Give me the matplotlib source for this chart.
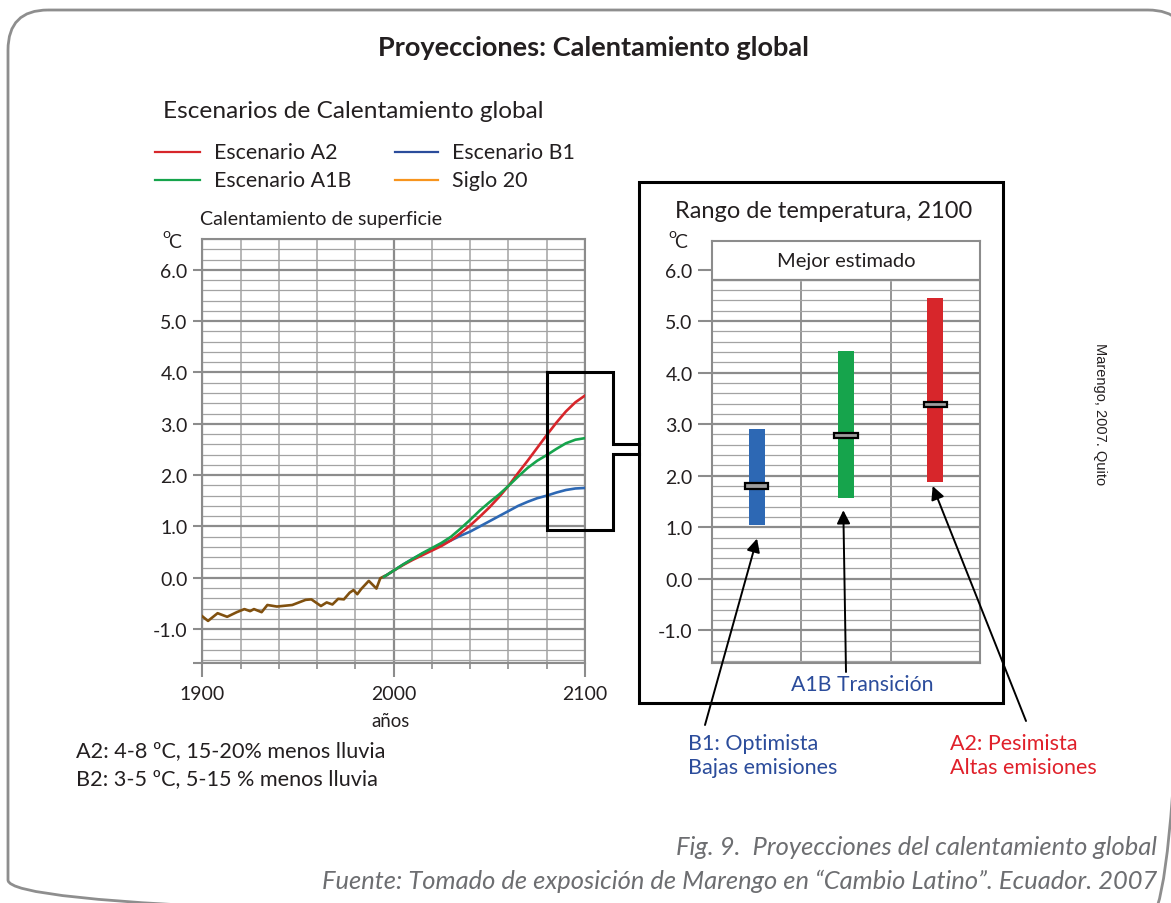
import numpy as np
import matplotlib
matplotlib.use("Agg")
import matplotlib.pyplot as plt
from matplotlib.patches import FancyBboxPatch, Rectangle
from matplotlib.lines import Line2D

plt.rcParams['font.family'] = ['Lato', 'DejaVu Sans']

# ---- data -------------------------------------------------------------
hist_years = [1900, 1903, 1908, 1913, 1918, 1922, 1925, 1927, 1931, 1934, 1939,
              1947, 1954, 1957, 1962, 1965, 1968, 1971, 1974, 1977, 1979, 1981,
              1983, 1987, 1991, 1993, 1995]
hist_temp = [-0.75, -0.84, -0.69, -0.76, -0.67, -0.61, -0.65, -0.61, -0.67, -0.53,
             -0.56, -0.53, -0.43, -0.42, -0.55, -0.48, -0.52, -0.41, -0.42, -0.29,
             -0.24, -0.32, -0.22, -0.06, -0.21, -0.01, 0.03]

scen_years = [1995, 2000, 2005, 2010, 2015, 2020, 2025, 2030, 2035, 2040, 2045,
              2050, 2055, 2060, 2065, 2070, 2075, 2080, 2085, 2090, 2095, 2100]
a2_temp = [0.02, 0.14, 0.25, 0.35, 0.44, 0.53, 0.62, 0.73, 0.87, 1.02, 1.19,
           1.37, 1.57, 1.79, 2.04, 2.28, 2.53, 2.78, 3.02, 3.24, 3.42, 3.55]
a1b_temp = [0.02, 0.14, 0.26, 0.37, 0.48, 0.58, 0.68, 0.80, 0.96, 1.13, 1.31,
            1.47, 1.62, 1.79, 1.97, 2.14, 2.28, 2.39, 2.51, 2.62, 2.69, 2.72]
b1_temp = [0.02, 0.14, 0.26, 0.37, 0.47, 0.56, 0.65, 0.73, 0.82, 0.90, 1.00,
           1.10, 1.20, 1.30, 1.40, 1.48, 1.55, 1.60, 1.66, 1.71, 1.74, 1.75]

range_labels = ['B1', 'A1B', 'A2']
range_low = [1.05, 1.57, 1.88]
range_high = [2.90, 4.42, 5.45]
range_best = [1.80, 2.78, 3.38]

y_tick_values = [-1, 0, 1, 2, 3, 4, 5, 6]
x_tick_years = [1900, 2000, 2100]

# ---- styling ------------------------------------------------------------
C_RED = '#d7262b'
C_GREEN = '#16a44c'
C_BLUE = '#2d68b4'
C_BROWN = '#80500f'
C_ORANGE = '#f7941d'
C_NAVY = '#2b4c9b'
C_GRID = '#a3a3a3'
C_GRID_MAJ = '#8c8c8c'
C_TEXT = '#231f20'
TICK_FS = 14

W, H = 1171, 904
fig = plt.figure(figsize=(W / 100, H / 100), dpi=100)
fig.patch.set_facecolor('white')


def px_axes(x0, y0, x1, y1, **kw):
    """Axes placed by pixel box (top-left origin)."""
    return fig.add_axes([x0 / W, 1 - y1 / H, (x1 - x0) / W, (y1 - y0) / H], **kw)


# ---- left chart: warming time series ------------------------------------
ax = px_axes(202.3, 240, 585, 664)
ax.set_xlim(1900, 2100)
ax.set_ylim(-1.66, 6.6)
ax.set_axisbelow(True)

ax.plot(hist_years, hist_temp, color=C_BROWN, lw=1.9, zorder=3)
ax.plot(scen_years, b1_temp, color=C_BLUE, lw=1.9, zorder=3)
ax.plot(scen_years, a2_temp, color=C_RED, lw=1.9, zorder=3)
ax.plot(scen_years, a1b_temp, color=C_GREEN, lw=1.9, zorder=4)

ax.set_yticks(y_tick_values + [-1.66])
ax.set_yticklabels([f'{v:.1f}' for v in y_tick_values] + [''])
ax.set_yticks(np.arange(-1.6, 6.61, 0.2), minor=True)
ax.set_xticks(x_tick_years)
ax.set_xticklabels([str(y) for y in x_tick_years])
ax.set_xticks(np.arange(1920, 2100, 20), minor=True)
ax.tick_params(axis='y', which='major', length=6.5, width=1.5, color=C_GRID_MAJ,
               labelsize=TICK_FS, labelcolor=C_TEXT, pad=4)
ax.tick_params(axis='y', which='minor', length=0)
ax.tick_params(axis='x', which='major', length=10, width=1.5, color=C_GRID_MAJ,
               labelsize=TICK_FS, labelcolor=C_TEXT, pad=6)
ax.tick_params(axis='x', which='minor', length=4.5, width=1.2, color=C_GRID_MAJ)
ax.grid(axis='y', which='minor', color=C_GRID, lw=0.9)
ax.grid(axis='y', which='major', color=C_GRID_MAJ, lw=1.6)
ax.grid(axis='x', which='minor', color=C_GRID, lw=1.1)
ax.grid(axis='x', which='major', color=C_GRID_MAJ, lw=1.6)
for s in ax.spines.values():
    s.set_color(C_GRID_MAJ)
    s.set_linewidth(1.5)

# ---- right chart: range of temperature in 2100 ---------------------------
bx = px_axes(712, 241.7, 980, 664.3)
bx.set_xlim(0, 3)
bx.set_ylim(-1.64, 6.56)
bx.set_axisbelow(True)
bx.set_xticks([1, 2])
bx.set_xticklabels([])
bx.tick_params(axis='x', length=0)
bx.set_yticks(y_tick_values)
bx.set_yticklabels([f'{v:.1f}' for v in y_tick_values])
bx.set_yticks(np.arange(-1.6, 6.5, 0.2), minor=True)
bx.tick_params(axis='y', which='major', length=10, width=1.5, color=C_GRID_MAJ,
               labelsize=TICK_FS, labelcolor=C_TEXT, pad=4)
bx.tick_params(axis='y', which='minor', length=0)
bx.grid(axis='y', which='minor', color=C_GRID, lw=0.9)
bx.grid(axis='y', which='major', color=C_GRID_MAJ, lw=1.6)
bx.grid(axis='x', which='major', color=C_GRID_MAJ, lw=1.3)
for s in bx.spines.values():
    s.set_color(C_GRID_MAJ)
    s.set_linewidth(1.5)
# header band for the best-estimate caption
bx.axhspan(5.8, 6.56, color='white', zorder=1)
bx.axhline(5.8, color=C_GRID_MAJ, lw=1.6, zorder=1.5)
bx.text(1.5, 6.18, 'Mejor estimado', ha='center', va='center', fontsize=14.5,
        color=C_TEXT, zorder=2)

xpos = np.arange(len(range_labels)) + 0.5
bx.bar(xpos, np.array(range_high) - np.array(range_low), bottom=range_low,
       width=0.18, color=[C_BLUE, C_GREEN, C_RED], zorder=3)
bx.bar(xpos, 0.1, bottom=np.array(range_best) - 0.05, width=0.26,
       color='#9d9d9d', edgecolor='black', linewidth=1.6, zorder=4)

# arrows from scenario captions to each range
arrow_tip_gap = [0.27, 0.24, 0.08]
arrow_tip_dx = [0.004, -0.03, -0.03]
arrow_tails = [(705, 726), (846, 673), (1026, 722)]
for i in range(len(range_labels)):
    tx, ty = arrow_tails[i]
    bx.annotate('', xy=(xpos[i] + arrow_tip_dx[i], range_low[i] - arrow_tip_gap[i]),
                xytext=(tx, H - ty), textcoords='figure pixels',
                arrowprops=dict(arrowstyle='-|>', color='black', lw=1.4,
                                mutation_scale=20, shrinkA=0, shrinkB=0),
                annotation_clip=False, zorder=6)

# ---- overlay for frames, bracket and free text ---------------------------
deco = fig.add_axes([0, 0, 1, 1], zorder=10)
deco.set_xlim(0, W)
deco.set_ylim(H, 0)
deco.axis('off')
deco.patch.set_alpha(0)

deco.add_patch(FancyBboxPatch((8, 11), 1180, 910,
                              boxstyle='round,pad=0,rounding_size=40',
                              fill=False, edgecolor='#8e8e8e', lw=2))
deco.add_patch(Rectangle((639, 183), 364, 521, fill=False, edgecolor='black',
                         lw=2.2))
deco.plot([546.7, 613, 613, 639], [373, 373, 445, 445], color='black', lw=2.2,
          solid_joinstyle='miter')
deco.plot([639, 613, 613, 546.7, 546.7], [455, 455, 530.5, 530.5, 373],
          color='black', lw=2.2, solid_joinstyle='miter')

deco.text(593, 48, 'Proyecciones: Calentamiento global', ha='center',
          va='center', fontsize=19.5, fontweight='bold', color=C_TEXT)
deco.text(163, 111, 'Escenarios de Calentamiento global', ha='left',
          va='center', fontsize=17.6, color=C_TEXT)

legend_items = [('Escenario A2', C_RED, 155, 200, 214, 153),
                ('Escenario B1', C_NAVY, 395, 438, 452, 153),
                ('Escenario A1B', C_GREEN, 155, 200, 214, 181),
                ('Siglo 20', C_ORANGE, 395, 438, 452, 181)]
for label, col, lx0, lx1, tx, ty in legend_items:
    deco.add_line(Line2D([lx0, lx1], [ty, ty], color=col, lw=1.6))
    deco.text(tx, ty, label, ha='left', va='center', fontsize=15.4, color=C_TEXT)

deco.text(200, 219, 'Calentamiento de superficie', ha='left', va='center',
          fontsize=14.1, color=C_TEXT)
deco.text(162, 234, 'o', ha='left', va='center', fontsize=10, color=C_TEXT)
deco.text(168, 243, 'C', ha='left', va='center', fontsize=14, color=C_TEXT)
deco.text(668, 234, 'o', ha='left', va='center', fontsize=10, color=C_TEXT)
deco.text(674, 243, 'C', ha='left', va='center', fontsize=14, color=C_TEXT)
deco.text(391, 722, 'años', ha='center', va='center', fontsize=13.4, color=C_TEXT)

deco.text(76, 751, 'A2: 4-8 ºC, 15-20% menos lluvia', ha='left', va='center',
          fontsize=15.6, color=C_TEXT)
deco.text(76, 779, 'B2: 3-5 ºC, 5-15 % menos lluvia', ha='left', va='center',
          fontsize=15.6, color=C_TEXT)

deco.text(675, 212, 'Rango de temperatura, 2100', ha='left', va='center',
          fontsize=17, color=C_TEXT)
deco.text(862, 685, 'A1B Transición', ha='center', va='center', fontsize=15.3,
          color=C_NAVY)
deco.text(688, 756, 'B1: Optimista\nBajas emisiones', ha='left', va='center',
          fontsize=15.5, color=C_NAVY, linespacing=1.2)
deco.text(950, 756, 'A2: Pesimista\nAltas emisiones', ha='left', va='center',
          fontsize=15.5, color='#e0202a', linespacing=1.2)

deco.text(1100, 414, 'Marengo, 2007. Quito', rotation=-90, ha='center',
          va='center', fontsize=10.5, color=C_TEXT, family='Liberation Sans')

deco.text(1157, 848, 'Fig. 9.  Proyecciones del calentamiento global',
          ha='right', va='center', fontsize=18.4, style='italic', color='#6d6e71')
deco.text(1157, 881, 'Fuente: Tomado de exposición de Marengo en “Cambio Latino”. Ecuador. 2007',
          ha='right', va='center', fontsize=18.4, style='italic', color='#6d6e71')

fig.savefig('out.png', dpi=100)
